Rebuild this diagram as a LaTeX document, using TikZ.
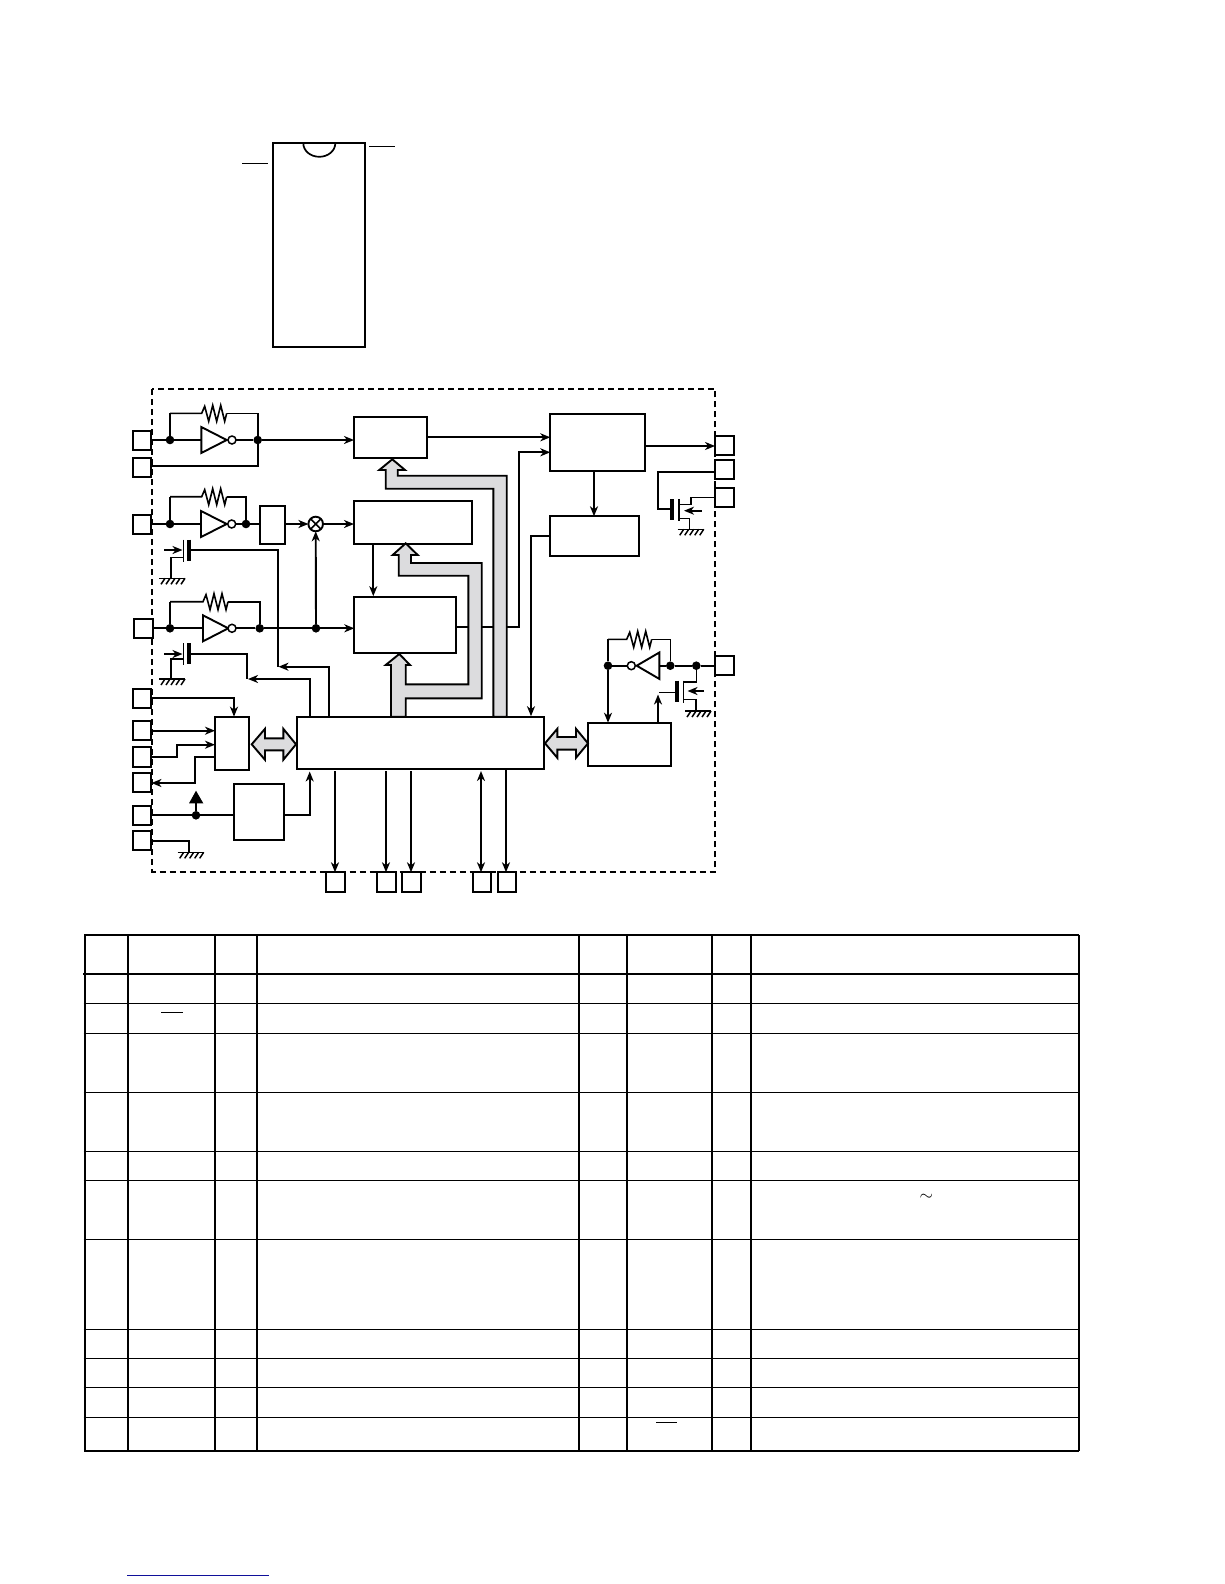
\documentclass[tikz,border=0pt]{standalone}
\usepackage{amsmath, amssymb}
\usetikzlibrary{arrows.meta,calc,positioning}
\definecolor{busgray}{HTML}{DCDCDE}
\definecolor{linkblue}{HTML}{10109A}
\tikzset{
	>={Stealth[length=10pt,width=8pt,inset=3pt]},
	wirefig/.style={x=1pt,y=-1pt,line width=1.9pt,line join=miter},
	blockbox/.style={draw,fill=white,rectangle,inner sep=0pt,outer sep=0pt,line width=2pt},
	padbox/.style={blockbox,minimum width=18.5pt,minimum height=19.2pt},
	jdot/.style={circle,fill=black,draw=none,minimum size=8.6pt,inner sep=0pt,outer sep=0pt},
	invdot/.style={circle,fill=white,draw,line width=1.5pt,minimum size=8pt,inner sep=0pt,outer sep=0pt},
	xorcirc/.style={circle,fill=white,draw,minimum size=14.6pt,inner sep=0pt,outer sep=0pt},
	busfill/.style={draw,fill=busgray,line width=1.9pt,line join=miter},
	bar/.style={line width=3.8pt},
	hair/.style={line width=1pt},
	tabrule/.style={line width=1.3pt},
	tabedge/.style={line width=2.4pt},
}
\newcommand{\invNbubble}[6]{
	\draw (#2,#4-#5) -- (#3,#4) -- (#2,#4+#5) -- cycle;
	\node[invdot] (#1b) at (#6,#4) {};
	\coordinate (#1a) at (#2,#4);
}
\newcommand{\resNzig}[3]{
	\draw[line width=1.6pt] (#1) -- (#2,#3) -- ++(3,-7) -- ++(4,15) -- ++(4,-16) -- ++(4,16) -- ++(4,-16) -- ++(4,16) -- ++(2,-8);
}
\newcommand{\gndNhatch}[2]{
	\draw[line width=1.5pt] (#1,#2) -- ++(26,0);
	\foreach \k in {0,...,4} {
		\draw[line width=1.5pt] (#1+\k*5+6,#2) -- ++(-4,6);
	}
}
\newcommand{\gateNbars}[3]{
	\draw[bar] (#2,#3-11) -- (#2,#3+10);
	\draw[line width=1.5pt] (#1,#3-11) -- (#1,#3+11);
}
\newcommand{\dblNbus}[7]{
	\filldraw[busfill] (#1,#5) -- (#2,#5-#6) -- (#2,#5-#7) -- (#3,#5-#7) -- (#3,#5-#6) -- (#4,#5)
		-- (#3,#5+#6) -- (#3,#5+#7) -- (#2,#5+#7) -- (#2,#5+#6) -- cycle;
}
\begin{document}
\begin{tikzpicture}[wirefig]
	\useasboundingbox (0,0) rectangle (1224,1584);
%
	% package outline
	\node[blockbox,minimum width=92pt,minimum height=203.3pt] (dipBody) at (319,245) {};
	\draw[line width=1.7pt] (303.3,143.3) arc[start angle=180,end angle=0,x radius=16,y radius=13.5];
	\draw[hair] (369,146.5) -- (395,146.5);
	\draw[hair] (242,163.5) -- (267.7,163.5);
%
	\draw[dashed,dash pattern=on 6pt off 4pt] (152.3,389) rectangle (715.3,871.7);
%
	% blocks
	\node[blockbox,minimum width=72.7pt,minimum height=41.6pt] (cntA) at (390.35,437.5) {};
	\node[blockbox,minimum width=117.7pt,minimum height=43pt] (cntB) at (412.85,522.2) {};
	\node[blockbox,minimum width=101.4pt,minimum height=56pt] (cntC) at (405,624.7) {};
	\node[blockbox,minimum width=95pt,minimum height=56.4pt] (outBox) at (597.8,442.5) {};
	\node[blockbox,minimum width=89pt,minimum height=39.4pt] (ctlBox) at (594.8,536) {};
	\node[blockbox,minimum width=25.6pt,minimum height=38pt] (ampBox) at (272.5,525) {};
	\node[blockbox,minimum width=34pt,minimum height=53.3pt] (serBox) at (232,743.3) {};
	\node[blockbox,minimum width=50.3pt,minimum height=56.3pt] (rstBox) at (258.85,812.15) {};
	\node[blockbox,minimum width=247.3pt,minimum height=52.3pt] (mainBox) at (420.35,742.85) {};
	\node[blockbox,minimum width=83.3pt,minimum height=43.3pt] (ioBox) at (629.35,744.35) {};
	\node[xorcirc] (mix) at (315.7,524) {};
	\draw[line width=1.5pt] (mix.north west) -- (mix.south east) (mix.north east) -- (mix.south west);
%
	% pads
	\node[padbox] (padA) at (142,440.8) {};
	\node[padbox] (padB) at (142,467.5) {};
	\node[padbox] (padC) at (142.2,524.7) {};
	\node[padbox] (padD) at (143.3,628.7) {};
	\node[padbox] (padE) at (142.2,698.2) {};
	\node[padbox] (padF) at (142.2,730.4) {};
	\node[padbox] (padG) at (142.2,757) {};
	\node[padbox] (padH) at (142.2,782.5) {};
	\node[padbox] (padI) at (142.2,815.5) {};
	\node[padbox] (padJ) at (142.2,840.3) {};
	\node[padbox] (padK) at (724.3,445.3) {};
	\node[padbox] (padL) at (724.3,469.7) {};
	\node[padbox] (padM) at (724.3,497.8) {};
	\node[padbox] (padN) at (724.5,665.2) {};
	\node[padbox,minimum height=20pt] (padO) at (335.4,882.3) {};
	\node[padbox,minimum height=20pt] (padP) at (386.6,882.3) {};
	\node[padbox,minimum height=20pt] (padQ) at (411.5,882.3) {};
	\node[padbox,minimum height=20pt] (padR) at (482.2,882.3) {};
	\node[padbox,minimum height=20pt] (padS) at (507.2,882.3) {};
%
	% oscillator rows
	\node[jdot] (dA) at (170,440) {};
	\node[jdot] (dB) at (257.7,440) {};
	\node[jdot] (dC) at (170,524) {};
	\node[jdot] (dD) at (246,524) {};
	\node[jdot] (dE) at (170,628.3) {};
	\node[jdot] (dF) at (259.7,628.3) {};
	\node[jdot] (dG) at (316,628.3) {};
	\node[jdot] (dH) at (608,665.7) {};
	\node[jdot] (dI) at (670.3,665.7) {};
	\node[jdot] (dJ) at (696.3,665.7) {};
	\node[jdot] (dK) at (196,815.3) {};
%
	\invNbubble{iA}{201.3}{226.7}{440}{13}{232}
	\invNbubble{iB}{201}{226.7}{524}{13}{231.7}
	\invNbubble{iC}{203}{228.3}{628.3}{13}{232}
	\invNbubble{iD}{659.3}{636.7}{665.7}{13.2}{631.3}
%
	\draw (padA.east |- dA) -- (dA) -- (iAa);
	\draw (iAb) -- (dB);
	\draw[->] (dB) -- (cntA.west |- dB);
	\draw (padB.east |- 0,466) -- (257.7,466) -- (dB);
	\resNzig{dA |- 0,413.3}{201.7}{413.3}
	\draw[line width=1.6pt] (dA) -- (dA |- 0,413.3);
	\draw[line width=1.6pt] (226.7,413.3) -| (dB);
%
	\draw (padC.east |- dC) -- (dC) -- (iBa);
	\draw (iBb) -- (dD) -- (ampBox.west |- dD);
	\draw[->] (ampBox.east |- dD) -- (mix);
	\draw[->] (mix) -- (cntB.west |- mix);
	\resNzig{dC |- 0,496.7}{201.7}{496.7}
	\draw[line width=1.6pt] (dC) -- (dC |- 0,496.7);
	\draw[line width=1.6pt] (226.7,496.7) -| (dD);
	\draw[->] (cntB.south -| 373.3,0) -- (373.3,596.2);
%
	\draw (padD.east |- dE) -- (dE) -- (iCa);
	\draw (iCb) -- (dF) -- (dG);
	\draw[->] (dG) -- (cntC.west |- dG);
	\draw[->] (dG) -- (mix);
	\resNzig{dE |- 0,601.7}{203}{601.7}
	\draw[line width=1.6pt] (dE) -- (dE |- 0,601.7);
	\draw[line width=1.6pt] (228,601.7) -| (dF);
%
	% left gates
	\gateNbars{183.3}{189}{550.5}
	\draw[->] (164,550) -- (182.5,550);
	\draw[line width=1.6pt] (183.3,557.3) -- (171,557.3) -- (171,578.3);
	\gndNhatch{159}{578.3}
	\draw (189,550) -- (277.7,550) -- (277.7,666.7);
	\draw[->] (mainBox.north -| 329.3,0) -- (329.3,666.7) -- (278.5,666.7);
%
	\gateNbars{183.3}{189}{654}
	\draw[->] (164,654) -- (182.5,654);
	\draw[line width=1.6pt] (183.3,659) -- (171,659) -- (171,679);
	\gndNhatch{159}{679}
	\draw (189,654) -- (247.3,654) -- (247.3,679);
	\draw[->] (mainBox.north -| 310.3,0) -- (310.3,679) -- (248,679);
%
	% serial side
	\draw[->] (padE.east |- 0,698) -| (serBox.north -| 234,0);
	\draw[->] (padF.east |- 0,730.7) -- (serBox.west |- 0,730.7);
	\draw[->] (padG.east |- 0,757) -- (176.7,757) -- (176.7,744.7) -- (serBox.west |- 0,744.7);
	\draw[->] (serBox.west |- 0,756.7) -- (195,756.7) -- (195,783) -- (padH.east |- 0,783);
	\draw (padI.east |- dK) -- (dK) -- (rstBox.west |- dK);
	\draw (dK) -- (196,803);
	\fill (189,803.3) -- (203.3,803.3) -- (196,790.7) -- cycle;
	\draw[->] (rstBox.east |- 0,814.7) -- (309.7,814.7) -- (309.7,771.5);
	\draw (padJ.east |- 0,841) -- (189.3,841) -- (189.3,852.3);
	\gndNhatch{177.7}{852.3}
%
	% main box outputs
	\draw[->] (335,771) -- (padO.north -| 335,0);
	\draw[->] (386,771) -- (padP.north -| 386,0);
	\draw[->] (411,771) -- (padQ.north -| 411,0);
	\draw[<->] (481,771) -- (padR.north -| 481,0);
	\draw[->] (mainBox.south -| 506,0) -- (padS.north -| 506,0);
%
	% right side
	\draw[->] (cntA.east |- 0,437.3) -- (outBox.west |- 0,437.3);
	\draw[->] (cntC.east |- 0,626.7) -- (519,626.7) -- (519,452.3) -- (outBox.west |- 0,452.3);
	\draw[->] (outBox.east |- 0,446) -- (padK.west |- 0,446);
	\draw[->] (outBox.south -| 594,0) -- (ctlBox.north -| 594,0);
	\coordinate (tapE) at (531,716.2);
	\draw[->] (ctlBox.west) -| (tapE);
%
	\draw (padL.west |- 0,471.7) -- (658,471.7) -- (658,509.3) -- (671,509.3);
	\gateNbars{679}{672}{510}
	\draw[line width=1.6pt] (679,504.3) -- (690.7,504.3) -- (690.7,497.3) -- (padM.west |- 0,497.3);
	\draw[line width=1.6pt] (679,518.3) -- (689.3,518.3) -- (689.3,529.3);
	\draw[->] (701.7,510.7) -- (684,510.7);
	\gndNhatch{677.7}{529.3}
%
	\draw (padN.west |- dJ) -- (dJ) -- (dI) -- (iDa);
	\draw (iDb) -- (dH);
	\resNzig{dH |- 0,639.3}{626.7}{639.3}
	\draw[line width=1.6pt] (dH) -- (dH |- 0,639.3);
	\draw[line width=1.6pt] (651.7,639.3) -| (dI);
	\draw[->] (dH) -- (ioBox.north -| 608,0);
	\draw[->] (ioBox.north -| 658,0) -- (658,694.5);
	\draw[line width=1.6pt] (659.3,692.3) -- (675,692.3);
	\gateNbars{683.3}{677}{691.5}
	\draw[line width=1.6pt] (683.3,681.7) -- (696.3,681.7) -- (dJ);
	\draw[line width=1.6pt] (683.3,699.3) -- (696,699.3) -- (696,711);
	\draw[->] (704,691) -- (687.5,691);
	\gndNhatch{685}{711}
%
	% gray buses
	\filldraw[busfill] (392.3,459.3) -- (405,470) -- (397.7,470) -- (397.7,475.7) -- (506.7,475.7) -- (506.7,716.7)
		-- (493.3,716.7) -- (493.3,488.7) -- (385.7,488.7) -- (385.7,470) -- (379.3,470) -- cycle;
	\filldraw[busfill] (399.3,654) -- (410,665) -- (405.7,665) -- (405.7,684.3) -- (468.3,684.3) -- (468.3,575.7)
		-- (398.7,575.7) -- (398.7,555) -- (392.7,555) -- (405.7,543.3) -- (417.7,555) -- (411,555) -- (411,563)
		-- (481.7,563) -- (481.7,698.3) -- (405.7,698.3) -- (405.7,716.7) -- (391,716.7) -- (391,665) -- (385.7,665) -- cycle;
	\dblNbus{251.7}{265}{283.3}{296}{744.3}{15.5}{6}{}
	\dblNbus{545}{557.3}{576}{588}{743.3}{14.5}{6.3}{}
%
	% pin table
	\foreach \y in {1003.5,1033.5,1092.5,1151.5,1180.5,1239.5,1329.5,1358.5,1387.5,1417.5} {
		\draw[tabrule] (83.5,\y) -- (1079,\y);
	}
	\draw[tabedge] (84,935) -- (1079,935);
	\draw[line width=2pt] (83,974) -- (1079,974);
	\draw[tabedge] (84,1450.7) -- (1079,1450.7);
	\foreach \x in {85,128.3,215.3,257.3,579,627,712,751.3,1079} {
		\draw[line width=2pt] (\x,935) -- (\x,1451);
	}
	\draw[hair] (161,1012.3) -- (182.7,1012.3);
	\draw[hair] (656,1422.3) -- (677,1422.3);
	\node[font=\fontsize{17}{17}\selectfont] (tildeMark) at (926.4,1197) {$\sim$};
%
	\draw[linkblue,line width=1.2pt] (127,1575.3) -- (269,1575.3);
\end{tikzpicture}
\end{document}
